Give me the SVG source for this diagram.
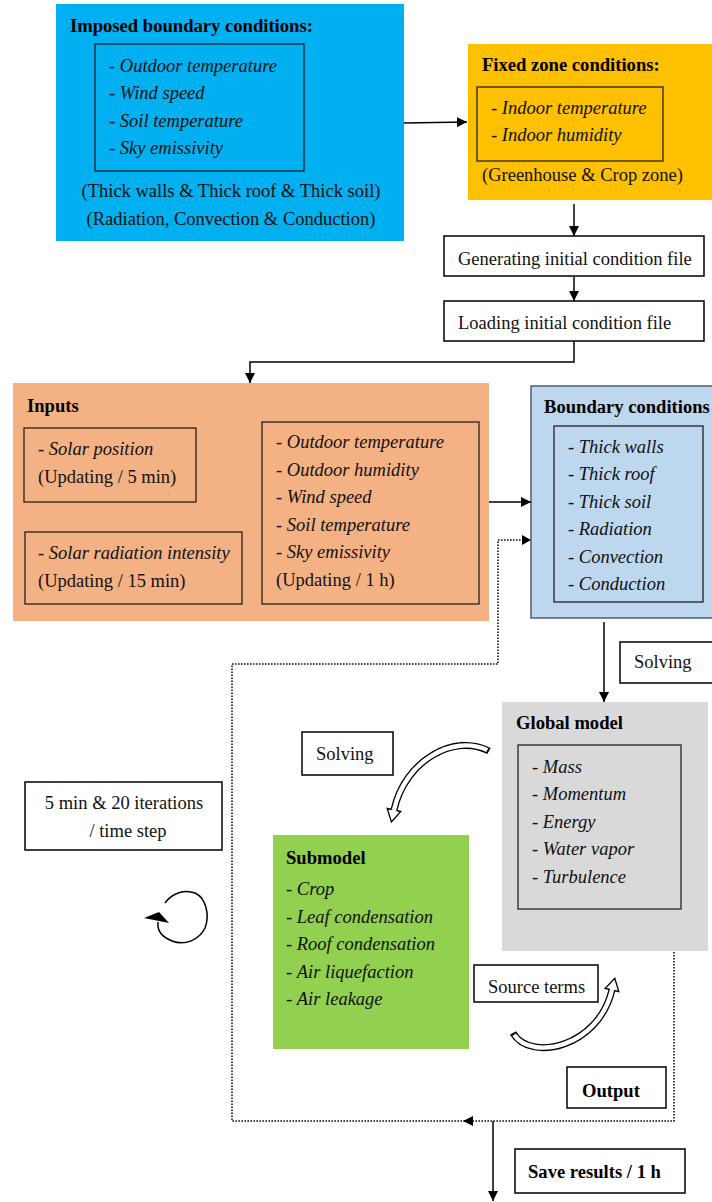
<svg xmlns="http://www.w3.org/2000/svg" width="712" height="1202" viewBox="0 0 712 1202">
  <style>
    text { font-family: "Liberation Serif", "Times New Roman", serif; font-size: 18.5px; fill: #111; }
    .b { font-weight: bold; font-size: 18.6px; fill: #000; }
    .i { font-style: italic; }
    .c { text-anchor: middle; }
    .box { fill: #fff; stroke: #000; stroke-width: 1.5; }
    .inner { fill: none; stroke: #222; stroke-width: 1.3; }
    .conn { fill: none; stroke: #000; stroke-width: 1.5; }
    .dot { fill: none; stroke: #111; stroke-width: 1.6; stroke-dasharray: 1.6 1.4; }
    .band-o { fill: none; stroke: #000; stroke-width: 7; }
    .band-i { fill: none; stroke: #fff; stroke-width: 4.4; }
    .head { fill: #fff; stroke: #000; stroke-width: 1.3; stroke-linejoin: miter; }
  </style>
  <defs>
    <marker id="arr" markerUnits="userSpaceOnUse" viewBox="0 0 10 10" refX="10" refY="5" markerWidth="10" markerHeight="10" orient="auto">
      <path d="M0,0 L10,5 L0,10 z" fill="#000"/>
    </marker>
  </defs>

  <rect width="712" height="1202" fill="#fff"/>

  <!-- Imposed boundary conditions -->
  <g id="imposed">
    <rect x="56" y="4" width="348" height="237" fill="#00B0F0"/>
    <text class="b" x="70" y="32">Imposed boundary conditions:</text>
    <rect class="inner" x="95" y="44" width="209" height="127"/>
    <text x="109" y="72">- <tspan class="i">Outdoor temperature</tspan></text>
    <text x="109" y="99">- <tspan class="i">Wind speed</tspan></text>
    <text x="109" y="127">- <tspan class="i">Soil temperature</tspan></text>
    <text x="109" y="154">- <tspan class="i">Sky emissivity</tspan></text>
    <text class="c" x="231" y="197">(Thick walls &amp; Thick roof &amp; Thick soil)</text>
    <text class="c" x="231" y="225">(Radiation, Convection &amp; Conduction)</text>
  </g>

  <!-- Fixed zone conditions -->
  <g id="fixed-zone">
    <rect x="468" y="44" width="250" height="156" fill="#FFC000"/>
    <text class="b" x="482" y="71">Fixed zone conditions:</text>
    <rect class="inner" x="477" y="87" width="186" height="74"/>
    <text x="491" y="114">- <tspan class="i">Indoor temperature</tspan></text>
    <text x="491" y="141">- <tspan class="i">Indoor humidity</tspan></text>
    <text x="482" y="181">(Greenhouse &amp; Crop zone)</text>
  </g>

  <!-- Initial condition file steps -->
  <g id="generating">
    <rect class="box" x="444" y="236" width="260" height="40"/>
    <text x="458" y="265">Generating initial condition file</text>
  </g>
  <g id="loading">
    <rect class="box" x="444" y="301" width="260" height="40"/>
    <text x="458" y="329">Loading initial condition file</text>
  </g>

  <!-- Inputs -->
  <g id="inputs">
    <rect x="13" y="383" width="476" height="238" fill="#F4B183"/>
    <text class="b" x="27" y="412">Inputs</text>
    <rect class="inner" x="24" y="428" width="172" height="74"/>
    <text x="38" y="455">- <tspan class="i">Solar position</tspan></text>
    <text x="38" y="483">(Updating / 5 min)</text>
    <rect class="inner" x="25" y="532" width="217" height="72"/>
    <text x="38" y="559">- <tspan class="i">Solar radiation intensity</tspan></text>
    <text x="38" y="587">(Updating / 15 min)</text>
    <rect class="inner" x="262" y="422" width="217" height="182"/>
    <text x="276" y="448">- <tspan class="i">Outdoor temperature</tspan></text>
    <text x="276" y="476">- <tspan class="i">Outdoor humidity</tspan></text>
    <text x="276" y="503">- <tspan class="i">Wind speed</tspan></text>
    <text x="276" y="531">- <tspan class="i">Soil temperature</tspan></text>
    <text x="276" y="558">- <tspan class="i">Sky emissivity</tspan></text>
    <text x="276" y="586">(Updating / 1 h)</text>
  </g>

  <!-- Boundary conditions -->
  <g id="boundary">
    <rect x="531" y="386" width="190" height="232" fill="#BDD7EE" stroke="#3a4a5a" stroke-width="1.3"/>
    <text class="b" x="544" y="413">Boundary conditions</text>
    <rect class="inner" x="554" y="426" width="149" height="176"/>
    <text x="568" y="453">- <tspan class="i">Thick walls</tspan></text>
    <text x="568" y="480">- <tspan class="i">Thick roof</tspan></text>
    <text x="568" y="508">- <tspan class="i">Thick soil</tspan></text>
    <text x="568" y="535">- <tspan class="i">Radiation</tspan></text>
    <text x="568" y="563">- <tspan class="i">Convection</tspan></text>
    <text x="568" y="590">- <tspan class="i">Conduction</tspan></text>
  </g>

  <g id="solving-global">
    <rect class="box" x="620" y="642" width="96" height="41"/>
    <text x="634" y="668">Solving</text>
  </g>

  <!-- Global model -->
  <g id="global-model">
    <rect x="502" y="702" width="206" height="249" fill="#D9D9D9"/>
    <text class="b" x="516" y="729">Global model</text>
    <rect class="inner" x="518" y="745" width="163" height="164"/>
    <text x="532" y="773">- <tspan class="i">Mass</tspan></text>
    <text x="532" y="800">- <tspan class="i">Momentum</tspan></text>
    <text x="532" y="828">- <tspan class="i">Energy</tspan></text>
    <text x="532" y="855">- <tspan class="i">Water vapor</tspan></text>
    <text x="532" y="883">- <tspan class="i">Turbulence</tspan></text>
  </g>

  <g id="solving-sub">
    <rect class="box" x="302" y="732" width="91" height="43"/>
    <text x="316" y="760">Solving</text>
  </g>

  <g id="time-step">
    <rect class="box" x="25" y="782" width="197" height="68"/>
    <text class="c" x="124" y="809">5 min &amp; 20 iterations</text>
    <text class="c" x="128" y="837">/ time step</text>
  </g>

  <!-- Submodel -->
  <g id="submodel">
    <rect x="273" y="835" width="196" height="214" fill="#92D050"/>
    <text class="b" x="286" y="864">Submodel</text>
    <text x="286" y="895">- <tspan class="i">Crop</tspan></text>
    <text x="286" y="923">- <tspan class="i">Leaf condensation</tspan></text>
    <text x="286" y="950">- <tspan class="i">Roof condensation</tspan></text>
    <text x="286" y="978">- <tspan class="i">Air liquefaction</tspan></text>
    <text x="286" y="1005">- <tspan class="i">Air leakage</tspan></text>
  </g>

  <g id="source-terms">
    <rect class="box" x="474" y="965" width="124" height="37"/>
    <text x="488" y="993">Source terms</text>
  </g>

  <g id="output">
    <rect class="box" x="567" y="1067" width="99" height="41"/>
    <text class="b" x="582" y="1097">Output</text>
  </g>

  <g id="save-results">
    <rect class="box" x="515" y="1149" width="170" height="44"/>
    <text class="b" x="528" y="1178">Save results / 1 h</text>
  </g>

  <!-- Connectors -->
  <g id="connectors">
    <path class="conn" d="M404,123 L467,122" marker-end="url(#arr)"/>
    <path class="conn" d="M574,204 V236" marker-end="url(#arr)"/>
    <path class="conn" d="M574,277 V301" marker-end="url(#arr)"/>
    <path class="conn" d="M574,341 V362 H250 V383" marker-end="url(#arr)"/>
    <path class="conn" d="M489,502 H531" marker-end="url(#arr)"/>
    <path class="conn" d="M604,622 V702" marker-end="url(#arr)"/>
    <path class="conn" d="M493,1121 V1201" marker-end="url(#arr)"/>

    <!-- iteration loop (dotted) -->
    <path class="dot" d="M674,952 V1121 H232 V664 H498 V540 H522"/>
    <path d="M522,535 L531,540 L522,545 z" fill="#000"/>
    <path d="M463,1121 L473,1116 L473,1126 z" fill="#000"/>

    <!-- hollow curved arrow: global model to submodel -->
    <path class="band-o" d="M489,751 C455,733 405,760 394,810"/>
    <path class="band-i" pathLength="100" stroke-dasharray="0 1.5 98.5" d="M489,751 C455,733 405,760 394,810"/>
    <path class="head" d="M391.5,809.5 L387.2,808.5 L391.4,822 L400.8,811.5 L396.5,810.5"/>

    <!-- hollow curved arrow: submodel to global model -->
    <path class="band-o" d="M513,1033 C530,1062 598,1048 612,990"/>
    <path class="band-i" pathLength="100" stroke-dasharray="0 1.5 98.5" d="M513,1033 C530,1062 598,1048 612,990"/>
    <path class="head" d="M609.8,989.5 L605.2,988.4 L614.8,978.3 L618.8,991.6 L614.2,990.5"/>

    <!-- circular time-step arrow -->
    <path class="conn" d="M165,903 C172,893 185,889 195,893 C206,898 210,915 205,928 C199,940 185,946 172,941 C162,937 157,930 158,922"/>
    <path d="M144,918 L159,912 L169,923 z" fill="#000"/>
  </g>
</svg>
